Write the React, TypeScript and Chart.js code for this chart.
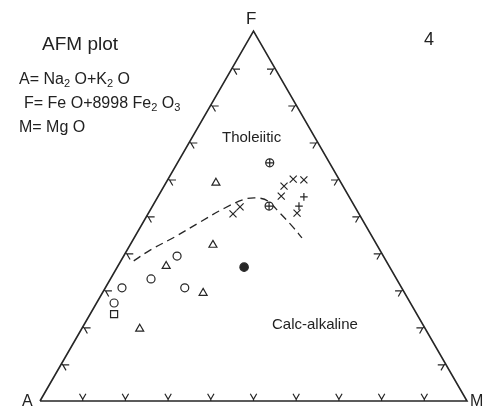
import React, { useEffect, useRef } from "react";
import { Chart, registerables } from "chart.js";

Chart.register(...registerables);

// Ternary compositions [A, F, M] in percent
const openCircles = [
  [48.3, 39.2, 12.5],
  [57.5, 33.0, 9.5],
  [50.8, 30.6, 18.6],
  [65.5, 30.6, 3.9],
  [69.4, 26.5, 4.1],
];
const openTriangles = [
  [29.3, 59.0, 11.7],
  [38.4, 42.2, 19.4],
  [52.2, 36.5, 11.3],
  [47.2, 29.2, 23.6],
  [66.9, 19.5, 13.6],
];
const openSquares = [[70.9, 23.5, 5.6]];
const filledCircles = [[34.1, 36.2, 29.7]];
const circlePlus = [
  [14.0, 64.4, 21.6],
  [20.0, 52.7, 27.3],
];
const diagonalCrosses = [
  [13.8, 58.1, 28.1],
  [10.7, 60.0, 29.3],
  [8.3, 59.8, 31.9],
  [15.8, 55.4, 28.8],
  [26.9, 52.5, 20.6],
  [29.5, 50.6, 19.9],
  [14.4, 50.8, 34.8],
];
const uprightCrosses = [
  [10.6, 55.2, 34.2],
  [13.0, 52.7, 34.3],
];
const boundaryLine = [
  [59.1, 37.9, 3.0],
  [53.8, 40.8, 5.4],
  [46.2, 44.4, 9.4],
  [38.3, 48.4, 13.3],
  [30.6, 52.2, 17.2],
  [24.7, 54.6, 20.7],
  [21.5, 54.9, 23.6],
  [19.6, 54.1, 26.3],
  [18.4, 50.8, 30.8],
  [17.3, 47.3, 35.4],
  [16.6, 44.1, 39.3],
];
const triangleVertices = [
  [100, 0, 0],
  [0, 0, 100],
  [0, 100, 0],
  [100, 0, 0],
];
const tickPercents = [10, 20, 30, 40, 50, 60, 70, 80, 90];

const SQ3 = Math.sqrt(3) / 2;
const toXY = (c: number[]) => {
  const s = c[0] + c[1] + c[2];
  const F = (c[1] / s) * 100;
  const M = (c[2] / s) * 100;
  return { x: M + F / 2, y: F * SQ3 };
};

function buildTicks() {
  const pts: { x: number; y: number }[] = [];
  const stem = 0.4;
  const arm = 1.5;
  const gap = { x: NaN, y: NaN };
  const add = (p: { x: number; y: number }, n: number[], d1: number[], d2: number[]) => {
    const q = { x: p.x + n[0] * stem, y: p.y + n[1] * stem };
    pts.push({ x: q.x + d1[0] * arm, y: q.y + d1[1] * arm });
    pts.push(q);
    pts.push({ x: q.x + d2[0] * arm, y: q.y + d2[1] * arm });
    pts.push(gap);
    pts.push(p);
    pts.push(q);
    pts.push(gap);
  };
  tickPercents.forEach((t) => {
    add(toXY([100 - t, 0, t]), [0, 1], [0.5, SQ3], [-0.5, SQ3]);
    add(toXY([100 - t, t, 0]), [SQ3, -0.5], [1, 0], [0.5, -SQ3]);
    add(toXY([0, t, 100 - t]), [-SQ3, -0.5], [-1, 0], [-0.5, -SQ3]);
  });
  return pts;
}

const INK = "#262626";

export default function App() {
  const ref = useRef<HTMLCanvasElement | null>(null);
  useEffect(() => {
    document.body.style.margin = "0";
    if (!ref.current) return;
    const pxPerUnit = 4.27;
    const ax = 40;
    const ay = 401;
    const marker = (data: number[][], style: string, radius: number, fill: string, order = 0) => ({
      data: data.map(toXY),
      pointStyle: style,
      pointRadius: radius,
      pointHoverRadius: radius,
      pointBorderColor: INK,
      pointBackgroundColor: fill,
      pointBorderWidth: 1.2,
      showLine: false,
      order,
    });
    const chart = new Chart(ref.current, {
      type: "scatter",
      data: {
        datasets: [
          marker(openCircles, "circle", 4, "#ffffff"),
          marker(openTriangles, "triangle", 4.6, "#ffffff"),
          marker(openSquares, "rect", 5, "#ffffff"),
          marker(filledCircles, "circle", 4.2, INK),
          marker(circlePlus, "cross", 4, "#ffffff", 0),
          marker(circlePlus, "circle", 4, "#ffffff", 1),
          marker(diagonalCrosses, "crossRot", 5, INK),
          marker(uprightCrosses, "cross", 3.8, INK),
          {
            data: boundaryLine.map(toXY),
            showLine: true,
            borderColor: INK,
            borderWidth: 1.3,
            borderDash: [8, 5],
            tension: 0.35,
            pointRadius: 0,
            order: 5,
          },
          {
            data: triangleVertices.map(toXY),
            showLine: true,
            borderColor: INK,
            borderWidth: 1.6,
            pointRadius: 0,
            tension: 0,
            order: 6,
          },
          {
            data: buildTicks(),
            showLine: true,
            spanGaps: false,
            borderColor: INK,
            borderWidth: 1.2,
            pointRadius: 0,
            tension: 0,
            order: 7,
          },
        ] as any,
      },
      options: {
        animation: false,
        responsive: false,
        maintainAspectRatio: false,
        layout: { padding: 0, autoPadding: false },
        plugins: { legend: { display: false }, tooltip: { enabled: false } },
        events: [],
        scales: {
          x: { type: "linear", display: false, min: -ax / pxPerUnit, max: (484 - ax) / pxPerUnit },
          y: { type: "linear", display: false, min: -(408 - ay) / pxPerUnit, max: ay / pxPerUnit },
        },
      },
    });
    return () => chart.destroy();
  }, []);

  const font = "'Liberation Sans', Arial, sans-serif";
  const base: React.CSSProperties = {
    position: "absolute",
    fontFamily: font,
    color: "#222",
    whiteSpace: "pre",
    lineHeight: 1,
  };
  const sub: React.CSSProperties = { fontSize: "11px", position: "relative", top: "3px" };

  return (
    <div style={{ position: "relative", width: 484, height: 408, background: "#fff", overflow: "hidden" }}>
      <canvas ref={ref} width={484} height={408} style={{ position: "absolute", left: 0, top: 0, width: 484, height: 408 }} />
      <div style={{ ...base, left: 42, top: 34, fontSize: 19 }}>AFM plot</div>
      <div style={{ ...base, left: 19, top: 71, fontSize: 16 }}>
        A= Na<span style={sub}>2</span> O+K<span style={sub}>2</span> O
      </div>
      <div style={{ ...base, left: 24, top: 95, fontSize: 16 }}>
        F= Fe O+8998 Fe<span style={sub}>2</span> O<span style={sub}>3</span>
      </div>
      <div style={{ ...base, left: 19, top: 119, fontSize: 16 }}>M= Mg O</div>
      <div style={{ ...base, left: 424, top: 30, fontSize: 18 }}>4</div>
      <div style={{ ...base, left: 246, top: 10, fontSize: 17 }}>F</div>
      <div style={{ ...base, left: 22, top: 393, fontSize: 16 }}>A</div>
      <div style={{ ...base, left: 470, top: 393, fontSize: 16 }}>M</div>
      <div style={{ ...base, left: 222, top: 129, fontSize: 15 }}>Tholeiitic</div>
      <div style={{ ...base, left: 272, top: 316, fontSize: 15 }}>Calc-alkaline</div>
    </div>
  );
}
